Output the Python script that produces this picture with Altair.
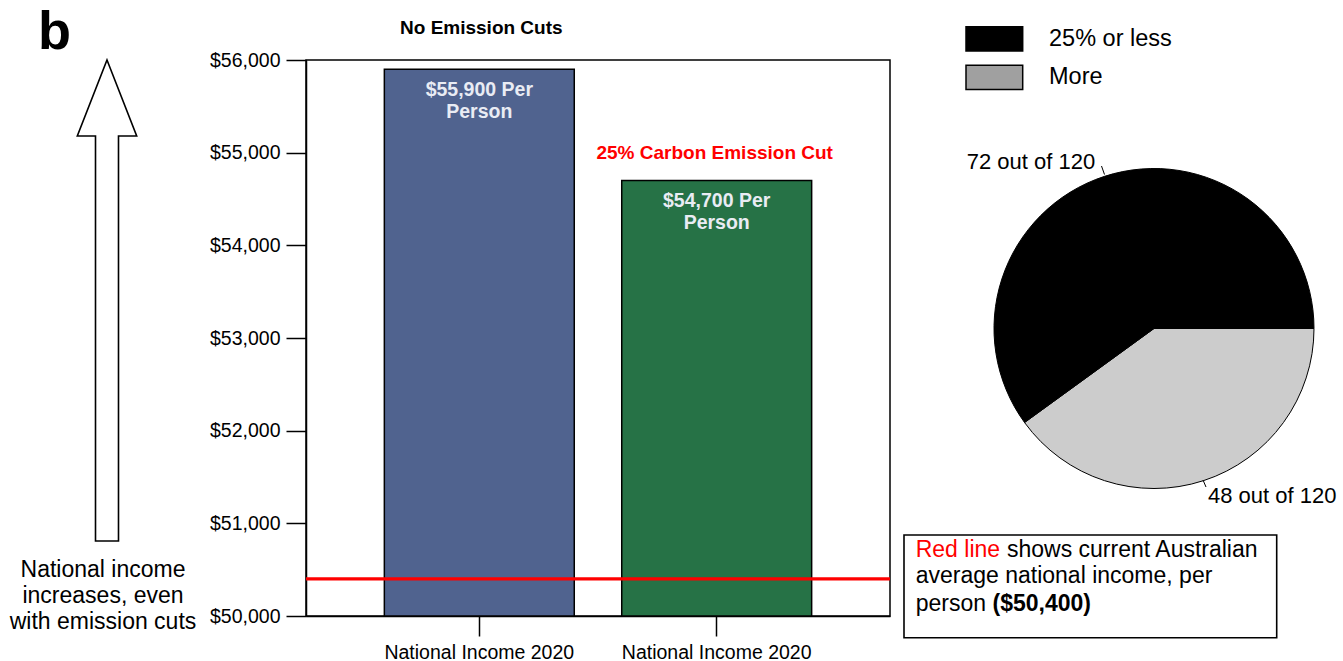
import math

import altair as alt
import pandas as pd

FONT = "Liberation Sans"

# ---- bar chart values ----
SCENARIOS = ["No Emission Cuts", "25% Carbon Emission Cut"]
INCOME_PER_PERSON = [55900, 54700]
BAR_COLORS = ["#50638f", "#267246"]
TITLE_COLORS = ["#000000", "#ff0000"]
CATEGORY_LABEL = "National Income 2020"
Y_MIN, Y_MAX = 50000, 56000
Y_TICKS = [50000, 51000, 52000, 53000, 54000, 55000, 56000]
CURRENT_INCOME = 50400

# ---- pie values ----
PIE_GROUPS = ["More", "25% or less"]
PIE_COUNTS = [48, 72]
PIE_COLORS = ["#cccccc", "#000000"]
LEGEND_LABELS = ["25% or less", "More"]
LEGEND_COLORS = ["#000000", "#a0a0a0"]

# ---- annotation text ----
PANEL_LETTER = "b"
ARROW_TEXT = "National income\nincreases, even\nwith emission cuts"
NOTE_RED = "Red line"
NOTE_REST_1 = "shows current Australian"
NOTE_REST_2 = "average national income, per\nperson"
NOTE_BOLD = f"(${CURRENT_INCOME:,})"

# outline arrow in unit coordinates (scaled by the symbol size)
ARROW_PATH = ("M0,-1 L0.1235,-0.684 L0.0478,-0.684 L0.0478,1 "
              "L-0.0478,1 L-0.0478,-0.684 L-0.1235,-0.684 Z")

bars_df = pd.DataFrame({
    "scenario": SCENARIOS,
    "income": INCOME_PER_PERSON,
    "color": BAR_COLORS,
    "title_color": TITLE_COLORS,
    "label": [f"${v:,} Per\nPerson" for v in INCOME_PER_PERSON],
})

x_enc = alt.X(
    "scenario:N",
    sort=SCENARIOS,
    scale=alt.Scale(domain=SCENARIOS, paddingInner=0.2, paddingOuter=0.33),
    axis=alt.Axis(title=None, labelAngle=0, labelExpr=f"'{CATEGORY_LABEL}'",
                  tickSize=20, labelPadding=7, labelFontSize=19.5,
                  labelLimit=400),
)
y_enc = alt.Y(
    "income:Q",
    scale=alt.Scale(domain=[Y_MIN, Y_MAX], nice=False, zero=False),
    axis=alt.Axis(title=None, values=Y_TICKS, format="$,.0f", grid=False,
                  tickSize=20, labelPadding=6, labelFontSize=19.5),
)

bars = alt.Chart(bars_df).mark_bar(stroke="black", strokeWidth=1.5).encode(
    x=x_enc, y=y_enc, y2=alt.datum(Y_MIN),
    fill=alt.Fill("color:N", scale=None),
)

red_line = alt.Chart(pd.DataFrame({"income": [CURRENT_INCOME]})).mark_rule(
    color="#ff0000", strokeWidth=3.2
).encode(y=y_enc)

bar_labels = alt.Chart(bars_df).mark_text(
    baseline="alphabetic", dy=27, fontSize=19.5, fontWeight="bold",
    color="#e9ecf4", lineBreak="\n", lineHeight=22, font=FONT,
).encode(x=x_enc, y=y_enc, text="label:N")

title_no_cut = alt.Chart(bars_df).transform_filter(
    alt.datum.scenario == SCENARIOS[0]
).mark_text(baseline="alphabetic", dy=-35, dx=2, fontSize=19,
            fontWeight="bold", font=FONT).encode(
    x=x_enc, y=y_enc, text="scenario:N",
    color=alt.Color("title_color:N", scale=None),
)
title_cut = alt.Chart(bars_df).transform_filter(
    alt.datum.scenario == SCENARIOS[1]
).mark_text(baseline="alphabetic", dy=-21, dx=-2, fontSize=19,
            fontWeight="bold", font=FONT).encode(
    x=x_enc, y=y_enc, text="scenario:N",
    color=alt.Color("title_color:N", scale=None),
)


def note(text, x, y, size, align="left", weight="normal", color="black",
         line_height=None, baseline="alphabetic"):
    kwargs = dict(align=align, baseline=baseline, fontSize=size,
                  fontWeight=weight, color=color, font=FONT, lineBreak="\n")
    if line_height:
        kwargs["lineHeight"] = line_height
    return alt.Chart(pd.DataFrame({"t": [text]})).mark_text(**kwargs).encode(
        x=alt.value(x), y=alt.value(y), text="t:N")


def segment(x1, y1, x2, y2, width=1.0):
    return alt.Chart(pd.DataFrame({"k": [0]})).mark_rule(
        color="black", strokeWidth=width
    ).encode(x=alt.value(x1), x2=alt.value(x2), y=alt.value(y1), y2=alt.value(y2))


# panel letter, arrow and its caption (left of the axis)
letter = note(PANEL_LETTER, -268, -11, 54, weight="bold")
arrow = alt.Chart(pd.DataFrame({"k": [0]})).mark_point(
    shape=ARROW_PATH, size=481 ** 2, filled=True, fill="white",
    stroke="black", strokeWidth=1.6, opacity=1,
).encode(x=alt.value(-199), y=alt.value(240.5))
arrow_caption = note(ARROW_TEXT, -203, 517, 23, align="center", line_height=26)

# legend drawn as swatches with labels
legend_layers = []
for i, (lab, col) in enumerate(zip(LEGEND_LABELS, LEGEND_COLORS)):
    top = -33.3 + i * 38.5
    legend_layers.append(
        alt.Chart(pd.DataFrame({"label": [lab], "color": [col]})).mark_rect(
            stroke="black", strokeWidth=1.5
        ).encode(x=alt.value(660), x2=alt.value(716.7), y=alt.value(top),
                 y2=alt.value(top + 24.3), fill=alt.Fill("color:N", scale=None))
    )
    legend_layers.append(note(lab, 743, top + 12.2, 23.5, baseline="middle"))

# pie of counts
pie_df = pd.DataFrame({
    "group": PIE_GROUPS, "count": PIE_COUNTS, "color": PIE_COLORS,
    "idx": list(range(len(PIE_GROUPS))),
})
pie = alt.Chart(pie_df).mark_arc(radius=160, stroke="black", strokeWidth=1).encode(
    theta=alt.Theta("count:Q", stack=True,
                    scale=alt.Scale(range=[math.pi / 2, math.pi / 2 + 2 * math.pi])),
    order=alt.Order("idx:Q"),
    fill=alt.Fill("color:N", scale=None),
    x=alt.value(848), y=alt.value(268.5),
)
total = sum(PIE_COUNTS)
count_of = dict(zip(PIE_GROUPS, PIE_COUNTS))
pie_label_big = note(f"{count_of['25% or less']} out of {total}", 660.7, 109.3, 22)
pie_label_small = note(f"{count_of['More']} out of {total}", 902, 443.3, 22)
leader_big = segment(795.5, 106, 798.5, 114.5)
leader_small = segment(897, 420, 900, 427)

# boxed note explaining the red line
note_box = alt.Chart(pd.DataFrame({"k": [0]})).mark_rect(
    fill="white", stroke="black", strokeWidth=1.6
).encode(x=alt.value(598), x2=alt.value(970.7), y=alt.value(475), y2=alt.value(577.7))
note_red = note(NOTE_RED, 609.7, 496.7, 23, color="#ff0000")
note_rest1 = note(NOTE_REST_1, 701, 496.7, 23)
note_rest2 = note(NOTE_REST_2, 609.7, 523.3, 23, line_height=27.4)
note_bold = note(NOTE_BOLD, 686.5, 550.7, 23, weight="bold")

chart = alt.layer(
    bars, red_line, bar_labels, title_no_cut, title_cut,
    arrow, letter, arrow_caption,
    *legend_layers,
    pie, leader_big, leader_small, pie_label_big, pie_label_small,
    note_box, note_red, note_rest1, note_rest2, note_bold,
).properties(
    width=584, height=556,
    padding={"left": 306, "top": 60, "right": 453, "bottom": 45},
    autosize=alt.AutoSizeParams(type="none"),
    background="white",
).configure_view(
    stroke="black", strokeWidth=1.5,
).configure_axis(
    domainColor="black", domainWidth=1.5, tickColor="black", tickWidth=1.5,
    labelColor="black", labelFont=FONT,
).configure_text(font=FONT)

chart.save("out.html", embed_options={"renderer": "svg", "actions": False})
